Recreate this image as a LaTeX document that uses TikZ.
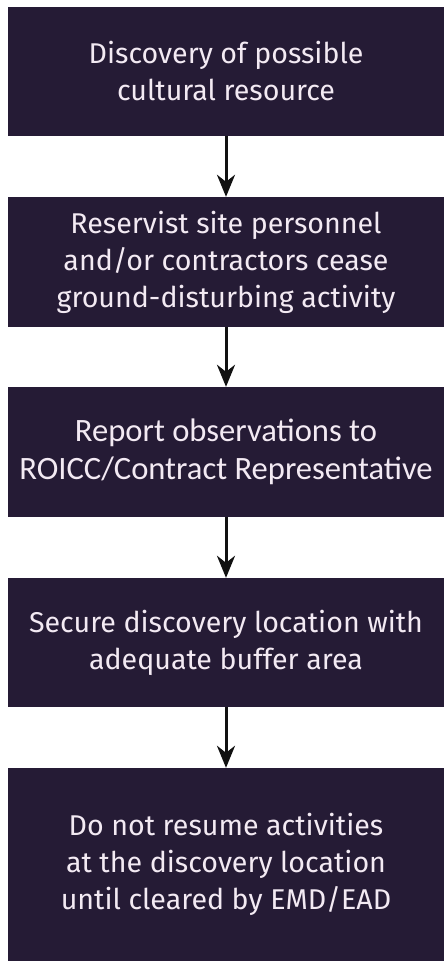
\documentclass[tikz,border=0pt]{standalone}
\usepackage{fontspec}
\setmainfont{Fira Sans}
\newfontfamily\calfont{Carlito}
\usetikzlibrary{arrows.meta}
\definecolor{boxc}{HTML}{251B35}
\definecolor{txtc}{HTML}{F3EAF3}
\definecolor{arrc}{HTML}{111111}
\tikzset{
  stepbox/.style={fill=boxc, draw=none, minimum width=436pt, inner sep=0pt, align=center, text=txtc, font=\fontsize{28.6}{37}\selectfont},
  flowarr/.style={draw=arrc, line width=3pt, -{Stealth[length=22pt,width=18pt,inset=7pt]}, shorten >=0pt}
}
\begin{document}
\begin{tikzpicture}[x=1pt,y=-1pt]
\useasboundingbox (0,0) rectangle (444,961);
\fill[white] (0,0) rectangle (444,961);
\node[stepbox, minimum height=129pt] (b1) at (226,71.5) {Discovery of possible\\cultural resource};
\node[stepbox, minimum height=130pt] (b2) at (226,262) {Reservist site personnel\\and/or contractors cease\\ground-disturbing activity};
\node[stepbox, minimum height=130pt, font=\calfont\fontsize{32.6}{38}\selectfont] (b3) at (226,452) {Report observations to\\ROICC/Contract Representative};
\node[stepbox, minimum height=129pt] (b4) at (226,642.5) {Secure discovery location with\\adequate buffer area};
\node[stepbox, minimum height=193pt] (b5) at (226,864.5) {Do not resume activities\\at the discovery location\\until cleared by EMD/EAD};
\draw[flowarr] (b1.south) -- (b2.north);
\draw[flowarr] (b2.south) -- (b3.north);
\draw[flowarr] (b3.south) -- (b4.north);
\draw[flowarr] (b4.south) -- (b5.north);
\end{tikzpicture}
\end{document}
